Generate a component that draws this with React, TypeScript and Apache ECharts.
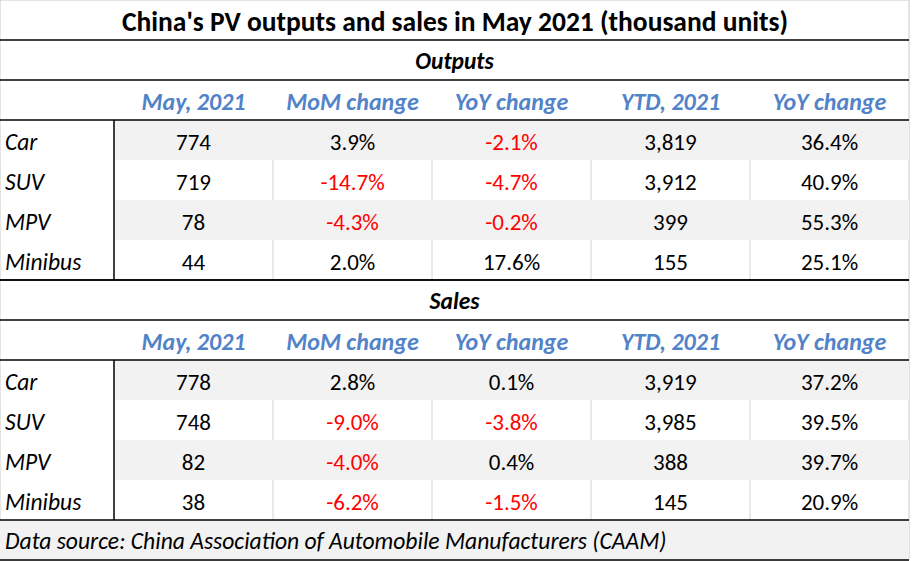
import React, { useEffect, useRef } from "react";
import * as echarts from "echarts";

const title = "China's PV outputs and sales in May 2021 (thousand units)";
const sectionNames = ["Outputs", "Sales"];
const headers = ["May, 2021", "MoM change", "YoY change", "YTD, 2021", "YoY change"];
const categories = ["Car", "SUV", "MPV", "Minibus"];

const outputMay = [774, 719, 78, 44];
const outputMoM = [3.9, -14.7, -4.3, 2.0];
const outputYoY = [-2.1, -4.7, -0.2, 17.6];
const outputYTD = [3819, 3912, 399, 155];
const outputYTDYoY = [36.4, 40.9, 55.3, 25.1];

const salesMay = [778, 748, 82, 38];
const salesMoM = [2.8, -9.0, -4.0, -6.2];
const salesYoY = [0.1, -3.8, 0.4, -1.5];
const salesYTD = [3919, 3985, 388, 145];
const salesYTDYoY = [37.2, 39.5, 39.7, 20.9];

const sourceNote = "Data source: China Association of Automobile Manufacturers (CAAM)";

const FONT = "Carlito, Lato, 'Noto Sans', sans-serif";

function fmtNum(v: number) {
  return v.toLocaleString("en-US");
}
function fmtPct(v: number) {
  return v.toFixed(1) + "%";
}

export default function App() {
  const ref = useRef<HTMLDivElement>(null);
  useEffect(() => {
    if (!ref.current) return;
    const chart = echarts.init(ref.current, null, { renderer: "svg" });

    const W = 909;
    const rowH = 40;
    const labelW = 114;
    const colW = (W - labelW) / 5;
    const els: any[] = [];

    const hline = (y: number, color = "#000", x1 = 0, x2 = W) =>
      els.push({ type: "line", shape: { x1, y1: y, x2, y2: y }, style: { stroke: color, lineWidth: 1.5 }, z: 5 });
    const vline = (x: number, y1: number, y2: number, color = "#000", lw = 1.5) =>
      els.push({ type: "line", shape: { x1: x, y1, x2: x, y2 }, style: { stroke: color, lineWidth: lw }, z: 5 });
    const text = (t: string, x: number, y: number, opts: any = {}) =>
      els.push({
        type: "text",
        x,
        y,
        z: 10,
        style: {
          text: t,
          fontFamily: FONT,
          fontSize: opts.size || 20,
          fontWeight: opts.weight || "normal",
          fontStyle: opts.style || "normal",
          fill: opts.color || "#000",
          align: opts.align || "center",
          verticalAlign: "middle",
        },
      });

    // background
    els.push({ type: "rect", shape: { x: 0, y: 0, width: W, height: 560 }, style: { fill: "#fff", stroke: "#c8c8c8", lineWidth: 1 }, z: 0 });

    // title
    text(title, W / 2 + 0.5, 21, { size: 27.5, weight: "bold" });

    const sections = [
      { name: sectionNames[0], cols: [outputMay, outputMoM, outputYoY, outputYTD, outputYTDYoY] },
      { name: sectionNames[1], cols: [salesMay, salesMoM, salesYoY, salesYTD, salesYTDYoY] },
    ];

    sections.forEach((sec, si) => {
      const top = 40 + si * 240;
      text(sec.name, W / 2, top + 21, { size: 23.5, weight: "bold", style: "italic" });
      headers.forEach((h, ci) => {
        text(h, labelW + colW * (ci + 0.5), top + 61, { size: 24, weight: "bold", style: "italic", color: "#5283c9" });
      });
      const dataTop = top + 80;
      categories.forEach((cat, ri) => {
        const y0 = dataTop + ri * rowH;
        if (ri % 2 === 0) {
          els.push({ type: "rect", shape: { x: labelW, y: y0, width: W - labelW, height: rowH }, style: { fill: "#f2f2f2" }, z: 1 });
        } else {
          for (let c = 1; c < 5; c++) vline(labelW + colW * c, y0, y0 + rowH, "#d4d4d4", 1);
        }
        text(cat, 5, y0 + 22, { size: 23.5, style: "italic", align: "left" });
        sec.cols.forEach((col, ci) => {
          const v = col[ri];
          const isPct = ci === 1 || ci === 2 || ci === 4;
          const t = isPct ? fmtPct(v) : fmtNum(v);
          text(t, labelW + colW * (ci + 0.5), y0 + 22, { size: 23, color: v < 0 ? "#ff0000" : "#000" });
        });
      });
      vline(labelW, dataTop, dataTop + 4 * rowH);
      hline(top);
      hline(top + 40);
      hline(top + 80);
    });
    hline(280);
    hline(520);
    hline(560);

    // source row
    els.push({ type: "rect", shape: { x: 0, y: 520, width: W, height: 40 }, style: { fill: "#f2f2f2" }, z: 1 });
    text(sourceNote, 5, 541, { size: 23.6, style: "italic", align: "left" });

    chart.setOption({ animation: false, graphic: els });
    return () => chart.dispose();
  }, []);

  return <div ref={ref} style={{ position: "absolute", left: 0, top: 0, width: 914, height: 561, background: "#fff" }} />;
}
